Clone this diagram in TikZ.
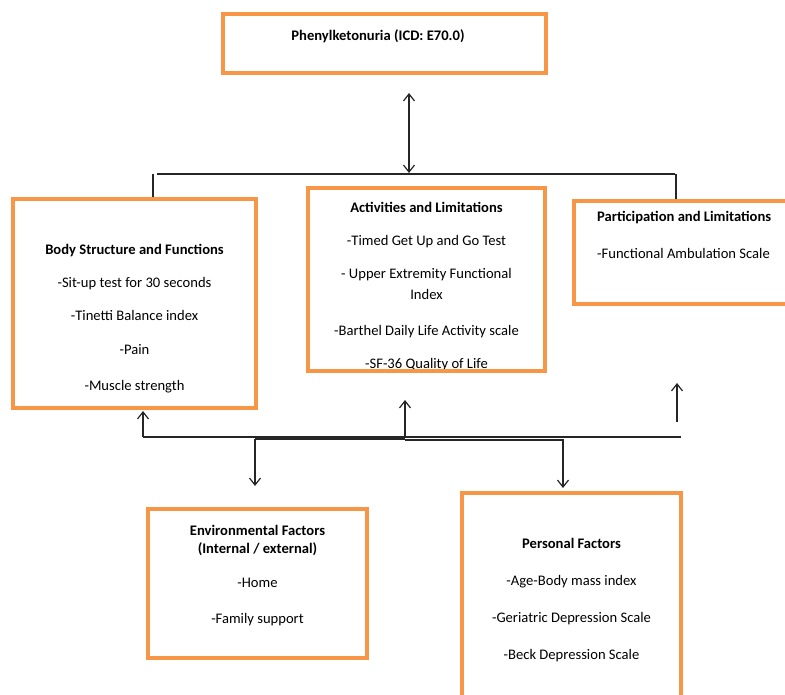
\documentclass[tikz,border=0pt]{standalone}
\usepackage{fontspec}
\setmainfont{Carlito}
\usetikzlibrary{arrows.meta}
\definecolor{arancio}{HTML}{F79646}

\tikzset{
	scatola/.style={draw=arancio,line width=3.2pt,inner sep=0pt},
	testo/.style={align=center,inner sep=0pt,font=\fontsize{14.6}{18}\selectfont},
	linea/.style={line width=1.2pt,color=black!85},
}
\newcommand{\riq}[5]{
	\node[scatola,minimum width={#4-#2},minimum height={#5-#3}] (#1) at ({(#2+#4)/2},{(#3+#5)/2}) {};
}

\begin{document}
\begin{tikzpicture}[x=1pt,y=-1pt,>={Straight Barb[length=7pt,width=11pt]}]
				\useasboundingbox (0,0) rectangle (785,695);
				\clip (0,0) rectangle (785,695);
				% testi (base = ultima riga)
				\node[testo,anchor=base] (ticd) at (378,41) {\textbf{Phenylketonuria (ICD: E70.0)}};
				\node[testo,anchor=base] (tcorpo) at (134.5,390) {\textbf{Body Structure and Functions}\\[15pt]-Sit-up test for 30 seconds\\[15pt]-Tinetti Balance index\\[16pt]-Pain\\[18pt]-Muscle strength};
				\node[testo,anchor=base] (tattivita) at (426.5,368) {\textbf{Activities and Limitations}\\[15pt]-Timed Get Up and Go Test\\[15pt]- Upper Extremity Functional\\[3pt]Index\\[18pt]-Barthel Daily Life Activity scale\\[15pt]-SF-36 Quality of Life};
				\node[testo,anchor=base west,align=left] (tpartec) at (597,259) {\textbf{Participation and Limitations}\\[19pt]-Functional Ambulation Scale};
				\node[testo,anchor=base] (tambiente) at (257.5,623) {\textbf{Environmental Factors}\\\textbf{(Internal / external)}\\[16pt]-Home\\[18pt]-Family support};
				\node[testo,anchor=base] (tpersonali) at (571.5,659) {\textbf{Personal Factors}\\[19pt]-Age-Body mass index\\[19pt]-Geriatric Depression Scale\\[19pt]-Beck Depression Scale};
				% riquadri
				\riq{icd}{223}{14}{546}{73}
				\riq{corpo}{13}{199}{256}{408}
				\riq{attivita}{308}{188}{545}{371}
				\riq{partec}{574}{201}{800}{304}
				\riq{ambiente}{148}{509}{367}{658}
				\riq{personali}{462}{493}{681}{720}
				% collegamenti in alto
				\coordinate (su) at (409,93);
				\coordinate (giu) at (409,173);
				\coordinate (sx) at (153,174);
				\coordinate (dx) at (676,174);
				\draw[linea,<->] (su) -- (giu);
				\draw[linea] (157,174) -- (675,174);
				\draw[linea] (sx) -- (sx |- 0,197);
				\draw[linea] (dx) -- (dx |- 0,199);
				% collegamenti in basso
				\coordinate (b1) at (143,437);
				\coordinate (b2) at (681,437);
				\coordinate (b3) at (255,439);
				\coordinate (b4) at (405,439);
				\coordinate (b5) at (563,440);
				\coordinate (b6) at (677,422);
				\draw[linea] (b1) -- (b2);
				\draw[linea,->] (b1) -- (143,411);
				\draw[linea,->] (405,438) -- (405,400);
				\draw[linea] (b3) -- (b4);
				\draw[linea,->] (b3) -- (255,486);
				\draw[linea,->] (405,440) -- (b5) -- (563,488);
				\draw[linea,->] (b6) -- (677,383);
			\end{tikzpicture}
\end{document}
